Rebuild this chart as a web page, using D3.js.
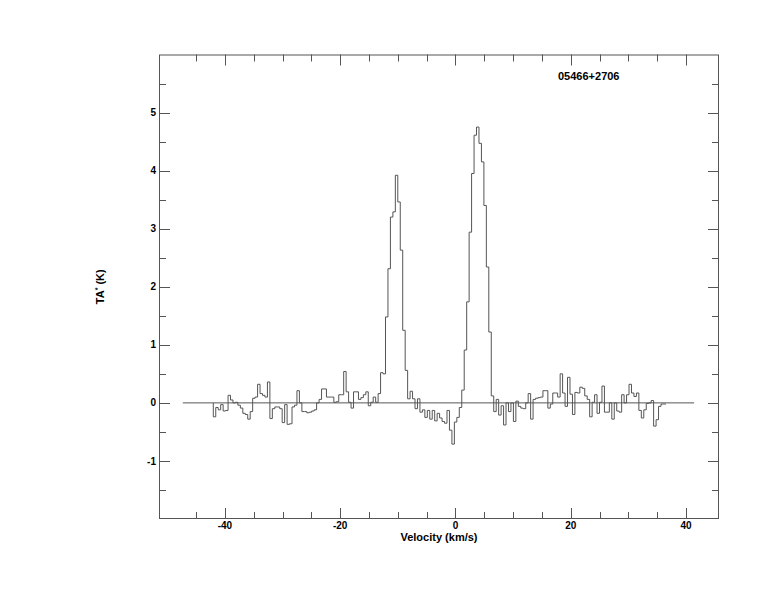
<!DOCTYPE html>
<html>
<head>
<meta charset="utf-8">
<script src="https://cdn.jsdelivr.net/npm/d3@7"></script>
<style>
  html, body { margin: 0; padding: 0; background: #fff; }
  svg { display: block; }
  text { font-family: "Liberation Sans", Arial, Helvetica, sans-serif; font-weight: bold; fill: #000; }
</style>
</head>
<body>
<svg id="chart" width="774" height="612"></svg>
<script>
// ---- data ----
const sourceName = "05466+2706";
const xTitle = "Velocity (km/s)";
const velStart = -42.01;      // left edge of first channel (km/s)
const chanWidth = 0.4267;     // channel width (km/s)
const ta = [
  -0.24,-0.08,-0.12,-0.03,-0.14,-0.13,0.13,0.05,0.00,0.01,
  -0.04,-0.09,-0.18,-0.20,-0.28,-0.15,0.08,0.10,0.32,0.16,
  0.13,0.10,0.36,-0.27,-0.10,-0.07,-0.07,-0.10,-0.34,-0.03,
  -0.37,-0.36,-0.07,-0.04,0.21,0.00,-0.15,-0.15,-0.17,-0.16,
  -0.14,-0.12,0.00,0.06,0.24,0.24,0.10,0.10,0.10,0.01,
  0.02,0.14,0.14,0.54,0.19,0.01,-0.09,0.19,0.19,0.06,
  0.09,0.14,0.19,-0.05,0.01,0.10,0.01,0.16,0.52,0.50,
  1.48,2.31,3.20,3.29,3.92,3.46,2.63,1.25,0.56,0.07,
  0.20,0.07,-0.10,0.07,-0.16,-0.12,-0.25,-0.13,-0.28,-0.13,
  -0.31,-0.18,-0.26,-0.32,-0.35,-0.13,-0.47,-0.71,-0.33,-0.25,
  -0.08,0.22,0.91,1.74,2.94,3.95,4.61,4.75,4.47,4.15,
  3.40,2.34,1.22,0.12,-0.15,0.06,-0.21,-0.05,-0.38,0.00,
  -0.15,0.00,-0.32,0.03,-0.06,-0.09,-0.10,0.00,0.16,-0.28,
  0.06,0.08,0.09,0.10,0.21,0.21,-0.09,-0.02,0.17,0.17,
  0.10,0.50,0.17,-0.06,0.44,0.15,-0.20,0.18,0.17,0.27,
  0.25,0.12,0.06,-0.24,0.01,0.14,-0.18,0.01,0.29,-0.16,
  -0.16,0.00,-0.28,0.00,-0.14,-0.16,0.14,0.00,0.14,0.32,
  0.17,0.11,0.17,-0.13,-0.26,-0.12,-0.01,0.00,0.04,-0.40,
  -0.29,-0.06,-0.02,-0.02
];
const baselineRange = [-47.3, 41.4];
const xDomain = [-51.43, 45.71];
const yDomain = [-2, 6];
const xMajor = [-40, -20, 0, 20, 40];
const xMinor = [-45, -35, -30, -25, -15, -10, -5, 5, 10, 15, 25, 30, 35];
const yMajor = [-1, 0, 1, 2, 3, 4, 5];
const yMinor = [-1.5, -0.5, 0.5, 1.5, 2.5, 3.5, 4.5, 5.5];

// ---- layout ----
const L = 159, R = 719, T = 54.5, B = 519;
const svg = d3.select("#chart");
const x = d3.scaleLinear().domain(xDomain).range([L, R]);
const y = d3.scaleLinear().domain(yDomain).range([B, T]);
const stroke = "#555";

// frame
svg.append("rect").attr("x", L + 0.5).attr("y", T + 0.5)
  .attr("width", R - L - 1).attr("height", B - T - 1)
  .attr("fill", "none").attr("stroke", stroke).attr("stroke-width", 1);

const MAJ = 11, MIN = 7;
const g = svg.append("g").attr("stroke", stroke).attr("stroke-width", 1);
function xt(v, len) {
  const px = Math.round(x(v)) + 0.5;
  g.append("line").attr("x1", px).attr("x2", px).attr("y1", B).attr("y2", B - len);
  g.append("line").attr("x1", px).attr("x2", px).attr("y1", T).attr("y2", T + len);
}
function yt(v, len) {
  const py = Math.round(y(v)) + 0.5;
  g.append("line").attr("y1", py).attr("y2", py).attr("x1", L).attr("x2", L + len);
  g.append("line").attr("y1", py).attr("y2", py).attr("x1", R).attr("x2", R - len);
}
xMajor.forEach(v => xt(v, MAJ));
xMinor.forEach(v => xt(v, MIN));
yMajor.forEach(v => yt(v, MAJ));
yMinor.forEach(v => yt(v, MIN));

// tick labels
svg.selectAll("text.xl").data(xMajor).enter().append("text")
  .attr("x", d => x(d)).attr("y", 529).attr("text-anchor", "middle")
  .attr("font-size", 10).text(d => d);
svg.selectAll("text.yl").data(yMajor).enter().append("text")
  .attr("x", 156).attr("y", d => y(d) + 3.6).attr("text-anchor", "end")
  .attr("font-size", 10).text(d => d);

// titles
svg.append("text").attr("x", (L + R) / 2).attr("y", 541)
  .attr("text-anchor", "middle").attr("font-size", 11).text(xTitle);
const yt2 = svg.append("text").attr("transform", `translate(104,${(T + B) / 2}) rotate(-90)`)
  .attr("text-anchor", "middle").attr("font-size", 11);
yt2.append("tspan").text("TA");
yt2.append("tspan").attr("font-size", 7).attr("dy", -4).text("*");
yt2.append("tspan").attr("dy", 4).text(" (K)");
svg.append("text").attr("x", 558).attr("y", 80).attr("font-size", 11).text(sourceName);

// baseline
svg.append("path")
  .attr("d", d3.line().x(d => x(d)).y(() => y(0))(baselineRange))
  .attr("stroke", stroke).attr("fill", "none").attr("stroke-width", 1);

// spectrum (histogram)
const pts = [{ v: velStart, t: 0 }];
ta.forEach((t, i) => pts.push({ v: velStart + i * chanWidth, t }));
pts.push({ v: velStart + ta.length * chanWidth, t: ta[ta.length - 1] });
svg.append("path")
  .attr("d", d3.line().x(d => x(d.v)).y(d => y(d.t)).curve(d3.curveStepAfter)(pts))
  .attr("stroke", stroke).attr("fill", "none").attr("stroke-width", 1);
</script>
</body>
</html>
